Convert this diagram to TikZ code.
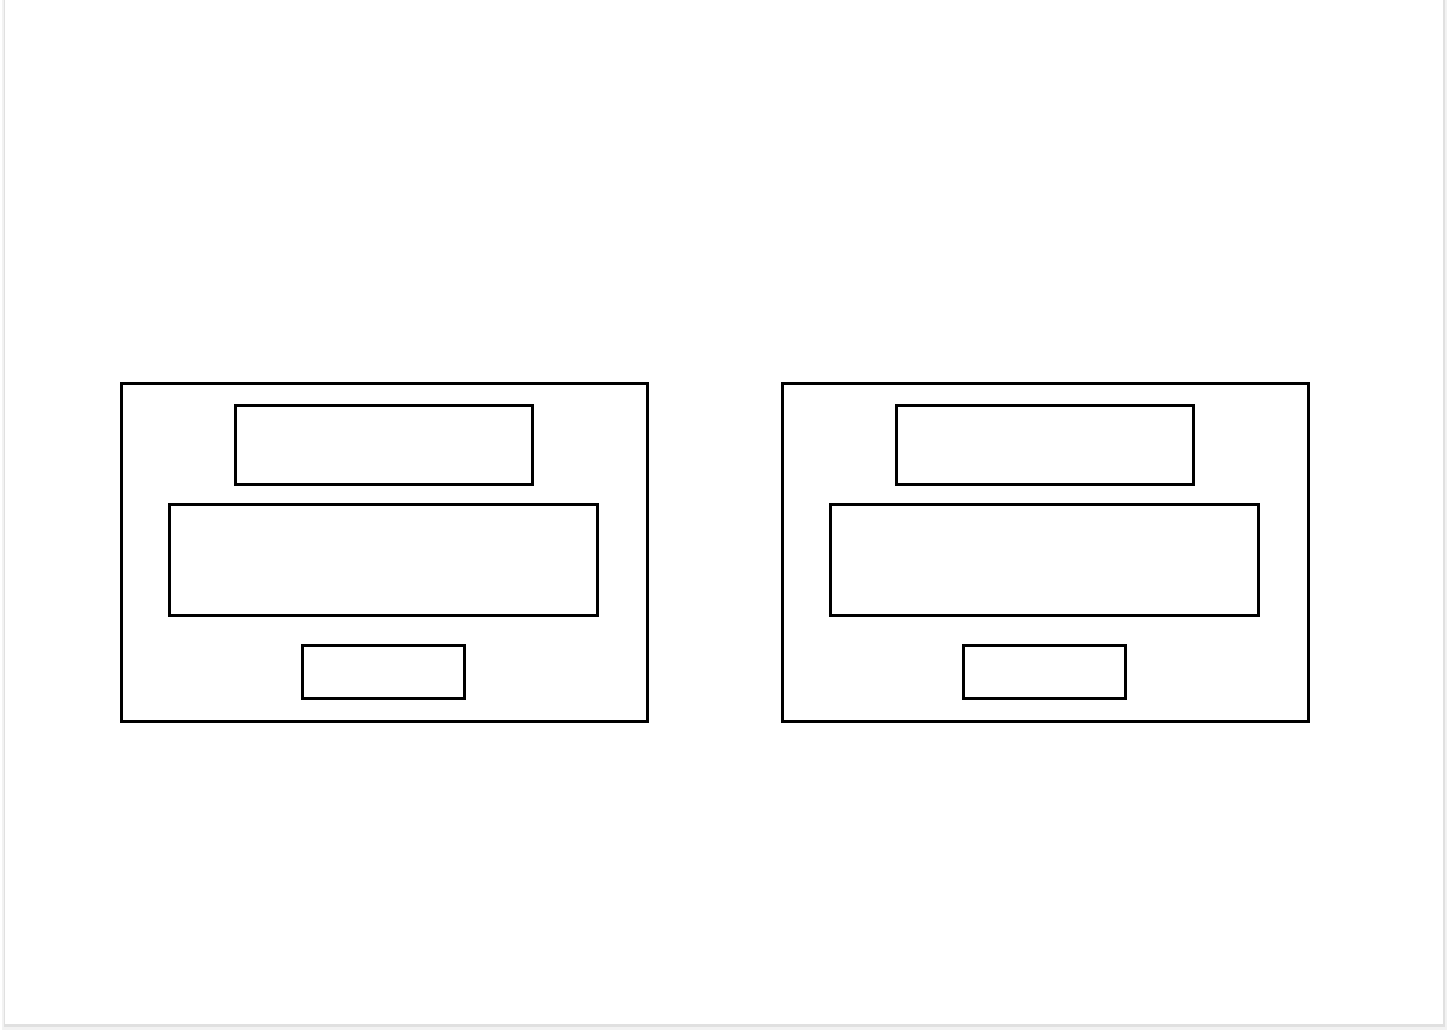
\documentclass[tikz,border=0pt]{standalone}
\begin{document}
\begin{tikzpicture}[x=1pt,y=-1pt,
  box/.style={draw=black,line width=3pt,rectangle,inner sep=0pt,fill=white}]
\useasboundingbox (0,0) rectangle (1448,1032);
% page shadow
\fill[black!5] (2,0) rectangle (1447,1030);
\fill[black!12] (4,0) rectangle (1445,1027);
\fill[white] (5,0) rectangle (1443,1024);
% left panel
\node[box,minimum width=526pt,minimum height=338pt] (lo) at (384,552.5) {};
\node[box,minimum width=297pt,minimum height=79pt] (lt) at (383.5,444.5) {};
\node[box,minimum width=428pt,minimum height=111pt] (lm) at (383.5,559.5) {};
\node[box,minimum width=162pt,minimum height=53pt] (lb) at (383,671.5) {};
% right panel
\node[box,minimum width=526pt,minimum height=338pt] (ro) at (1045,552.5) {};
\node[box,minimum width=297pt,minimum height=79pt] (rt) at (1044.5,444.5) {};
\node[box,minimum width=428pt,minimum height=111pt] (rm) at (1044.5,559.5) {};
\node[box,minimum width=162pt,minimum height=53pt] (rb) at (1044,671.5) {};
\end{tikzpicture}
\end{document}
